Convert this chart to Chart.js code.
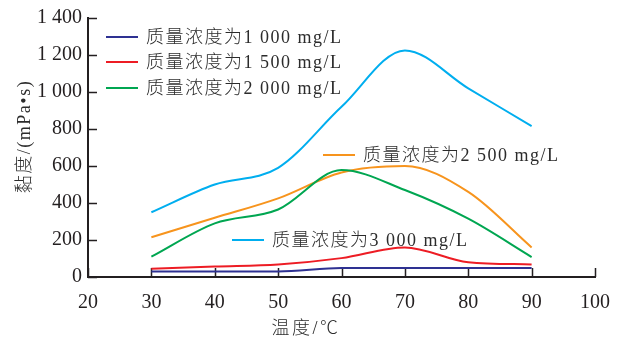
<!DOCTYPE html>
<html>
<head>
<meta charset="utf-8">
<script src="https://cdn.jsdelivr.net/npm/chart.js@4.4.1/dist/chart.umd.min.js"></script>
<style>
  html, body { margin: 0; padding: 0; background: #ffffff; }
  #wrap { width: 624px; height: 343px; }
</style>
</head>
<body>
<div id="wrap"><canvas id="c" width="624" height="343"></canvas></div>
<script>
// Temperature (°C) and viscosity (mPa·s) for each polymer concentration
const temperatures = [30, 40, 50, 60, 70, 80, 90];
const visc1000 = [30, 30, 30, 48, 48, 48, 48];
const visc1500 = [45, 57, 68, 102, 160, 80, 68];
const visc2000 = [110, 290, 365, 578, 470, 315, 108];
const visc2500 = [215, 320, 425, 565, 600, 460, 160];
const visc3000 = [350, 500, 590, 920, 1225, 1020, 815];

const seriesNames = [
  '质量浓度为1 000 mg/L',
  '质量浓度为1 500 mg/L',
  '质量浓度为2 000 mg/L',
  '质量浓度为2 500 mg/L',
  '质量浓度为3 000 mg/L'
];
const seriesColors = ['#2e3192', '#ed1c24', '#00a651', '#f7941d', '#00aeef'];

const xTickValues = [20, 30, 40, 50, 60, 70, 80, 90, 100];
const yTickValues = [0, 200, 400, 600, 800, 1000, 1200, 1400];

const xTitle = '温度/℃';
const yTitle = '黏度/(mPa•s)';

const FONT = '"Liberation Serif", "Times New Roman", "Noto Sans CJK SC", serif';
const INK = '#231f20';
const TEXT = '#2b2b2b';

const allSeries = [visc1000, visc1500, visc2000, visc2500, visc3000];

const datasets = allSeries.map((vals, i) => ({
  label: seriesNames[i],
  data: temperatures.map((t, k) => ({ x: t, y: vals[k] })),
  borderColor: seriesColors[i],
  backgroundColor: seriesColors[i],
  borderWidth: 2,
  pointRadius: 0,
  fill: false,
  cubicInterpolationMode: 'monotone'
}));

// Inward tick marks on both axes
const innerTicks = {
  id: 'innerTicks',
  beforeDatasetsDraw(chart) {
    const { ctx, chartArea } = chart;
    const xs = chart.scales.x, ys = chart.scales.y;
    ctx.save();
    ctx.strokeStyle = INK;
    ctx.lineWidth = 1.5;
    ctx.beginPath();
    xTickValues.forEach(v => {
      const px = Math.round(xs.getPixelForValue(v)) + 0.5;
      ctx.moveTo(px, chartArea.bottom);
      ctx.lineTo(px, chartArea.bottom - 9);
    });
    yTickValues.forEach(v => {
      const py = Math.round(ys.getPixelForValue(v)) + 0.5;
      ctx.moveTo(chartArea.left, py);
      ctx.lineTo(chartArea.left + 9, py);
    });
    ctx.stroke();
    ctx.restore();
  }
};

// Legend entries placed inside the plot, next to the curves
const legendSpots = [
  { dx: 18, dy: 19 },
  { dx: 18, dy: 44 },
  { dx: 18, dy: 70 },
  { dx: 235, dy: 137 },
  { dx: 144, dy: 222 }
];
const floatingLegend = {
  id: 'floatingLegend',
  afterDatasetsDraw(chart) {
    const { ctx, chartArea } = chart;
    ctx.save();
    ctx.font = '300 18px ' + FONT;
    ctx.textBaseline = 'middle';
    ctx.textAlign = 'left';
    if ('letterSpacing' in ctx) ctx.letterSpacing = '1.5px';
    chart.data.datasets.forEach((ds, i) => {
      const s = legendSpots[i];
      const x0 = chartArea.left + s.dx;
      const y0 = chartArea.top + s.dy;
      ctx.strokeStyle = ds.borderColor;
      ctx.lineWidth = 2;
      ctx.beginPath();
      ctx.moveTo(x0, y0);
      ctx.lineTo(x0 + 32, y0);
      ctx.stroke();
      ctx.fillStyle = TEXT;
      ctx.fillText(ds.label, x0 + 40, y0 + 1);
    });
    ctx.restore();
  }
};

// Axis titles
const axisTitles = {
  id: 'axisTitles',
  afterDraw(chart) {
    const { ctx, chartArea } = chart;
    ctx.save();
    ctx.font = '300 18px ' + FONT;
    ctx.fillStyle = TEXT;
    ctx.textAlign = 'center';
    ctx.textBaseline = 'middle';
    if ('letterSpacing' in ctx) ctx.letterSpacing = '2.5px';
    ctx.fillText(xTitle, chartArea.left + (chartArea.right - chartArea.left) * 0.43, chartArea.bottom + 52);
    if ('letterSpacing' in ctx) ctx.letterSpacing = '1.5px';
    ctx.translate(25, (chartArea.top + chartArea.bottom) / 2 - 11);
    ctx.rotate(-Math.PI / 2);
    ctx.fillText(yTitle, 0, 0);
    ctx.restore();
  }
};

const formatThousands = v => {
  const s = String(v);
  return s.length > 3 ? s.slice(0, s.length - 3) + ' ' + s.slice(-3) : s;
};

new Chart(document.getElementById('c'), {
  type: 'line',
  data: { datasets },
  options: {
    responsive: false,
    devicePixelRatio: 1,
    animation: false,
    layout: { padding: { left: 0, right: 24, top: 17, bottom: 0 } },
    plugins: {
      legend: { display: false },
      tooltip: { enabled: false }
    },
    scales: {
      x: {
        type: 'linear',
        min: 20,
        max: 100,
        afterBuildTicks: scale => { scale.ticks = xTickValues.map(v => ({ value: v })); },
        afterFit: scale => { scale.height = 66; },
        grid: { display: true, drawOnChartArea: false, drawTicks: false },
        border: { display: true, color: INK, width: 2 },
        ticks: {
          color: INK,
          font: { family: FONT, size: 20 },
          padding: 14,
          maxRotation: 0,
          autoSkip: false
        }
      },
      y: {
        type: 'linear',
        min: 0,
        max: 1400,
        afterBuildTicks: scale => { scale.ticks = yTickValues.map(v => ({ value: v })); },
        afterFit: scale => { scale.width = 88; },
        grid: { display: true, drawOnChartArea: false, drawTicks: false },
        border: { display: true, color: INK, width: 2 },
        ticks: {
          color: INK,
          font: { family: FONT, size: 20 },
          padding: 6,
          callback: v => formatThousands(v)
        }
      }
    }
  },
  plugins: [innerTicks, floatingLegend, axisTitles]
});
</script>
</body>
</html>
